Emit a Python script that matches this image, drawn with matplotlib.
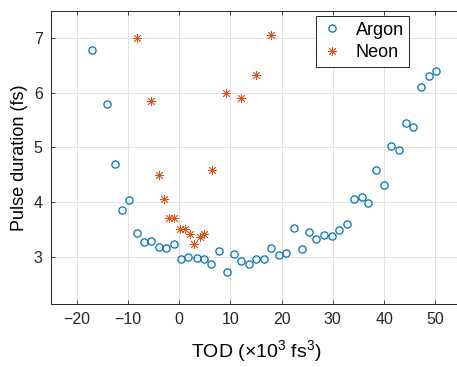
import numpy as np
import matplotlib.pyplot as plt

plt.rcParams['font.family'] = ['Liberation Sans', 'DejaVu Sans']
plt.rcParams['mathtext.fontset'] = 'custom'
plt.rcParams['mathtext.rm'] = 'Liberation Sans'
plt.rcParams['mathtext.it'] = 'Liberation Sans:italic'

# Argon scan: TOD (x10^3 fs^3) vs pulse duration (fs)
argon_tod = [-17.0, -14.1, -12.6, -11.2, -9.8, -8.2, -6.8, -5.5, -4.0, -2.5, -1.0,
             0.4, 1.8, 3.4, 4.9, 6.3, 7.8, 9.3, 10.7, 12.1, 13.6, 15.1, 16.5,
             18.0, 19.5, 20.9, 22.4, 23.9, 25.4, 26.8, 28.3, 29.8, 31.2, 32.7,
             34.2, 35.6, 36.9, 38.4, 39.9, 41.3, 42.9, 44.2, 45.7, 47.2, 48.7, 50.2]
argon_dur = [6.79, 5.80, 4.70, 3.86, 4.03, 3.43, 3.26, 3.29, 3.18, 3.15, 3.23,
             2.95, 3.00, 2.97, 2.95, 2.87, 3.10, 2.71, 3.05, 2.92, 2.87, 2.95, 2.95,
             3.15, 3.02, 3.07, 3.53, 3.14, 3.45, 3.32, 3.39, 3.37, 3.49, 3.59,
             4.06, 4.10, 3.98, 4.58, 4.31, 5.02, 4.95, 5.44, 5.38, 6.10, 6.31, 6.40]

# Neon scan
neon_tod = [-8.2, -5.5, -4.0, -2.9, -2.0, -0.9, 0.1, 1.1, 2.1, 3.0, 4.1, 4.9,
            6.4, 9.2, 12.1, 15.1, 18.0]
neon_dur = [7.00, 5.86, 4.50, 4.05, 3.70, 3.70, 3.50, 3.51, 3.41, 3.23, 3.35, 3.41,
            4.59, 6.00, 5.90, 6.33, 7.06]

xticks = [-20, -10, 0, 10, 20, 30, 40, 50]
yticks = [3, 4, 5, 6, 7]

fig = plt.figure(figsize=(4.57, 3.67), dpi=100)
ax = fig.add_axes([0.1116, 0.1717, 0.897, 0.798])

ax.plot(argon_tod, argon_dur, 'o', ls='none', mfc='none', mec='#0072BD',
        ms=5.2, mew=0.9, label='Argon')
ax.plot(neon_tod, neon_dur, marker=(8, 2, 0), ls='none', color='#D95319',
        mec='#D95319', ms=6.5, mew=0.6, label='Neon')

ax.set_xlim(-25, 55)
ax.set_ylim(2.13, 7.5)
ax.set_xticks(xticks)
ax.set_yticks(yticks)
ax.grid(True, color='#dddddd', lw=0.6)
ax.set_axisbelow(True)
ax.tick_params(direction='in', top=True, right=False, length=3, width=0.6,
               labelsize=11.5, colors='#262626', pad=6)
for s in ax.spines.values():
    s.set_color('#262626')
    s.set_linewidth(0.7)
ax.spines['right'].set_visible(False)

ax.set_xlabel(r'TOD ($\times$10$^3$ fs$^3$)', fontsize=14, labelpad=8)
ax.set_ylabel('Pulse duration (fs)', fontsize=13, labelpad=4)

leg = ax.legend(loc='upper left', bbox_to_anchor=(0.646, 0.982), fontsize=13,
                fancybox=False, framealpha=1, edgecolor='#262626',
                handlelength=1.2, handletextpad=0.7, borderpad=0.3,
                labelspacing=0.3, borderaxespad=0)
leg.get_frame().set_linewidth(0.7)

fig.savefig('out.png', dpi=100)
